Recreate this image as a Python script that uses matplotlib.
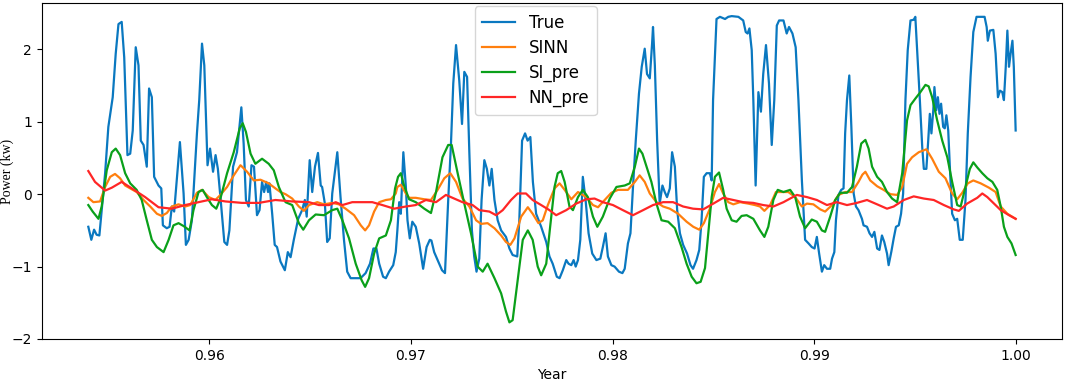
import numpy as np
import matplotlib
matplotlib.use("Agg")
import matplotlib.pyplot as plt

# time stamps are in hours from the start of the window; 403 h span ending at 1.0 year
HOURS_PER_YEAR = 8760.0
SPAN_H = 403.0

true_h = [0, 1.3, 2.5, 3.6, 4.8, 7.3, 8.7, 10.6, 11.9, 13.1, 14.5, 15.6, 17.0, 18.2, 19.3, 20.6, 21.8, 22.8, 24.0, 25.4,
          26.4, 27.6, 28.6, 30.5, 31.7, 32.4, 34.1, 35.3, 36.3, 37.3, 39.8, 41.4, 42.4, 43.6, 45.0, 47.2, 48.2, 49.4, 50.4, 51.8,
          52.9, 54.2, 55.3, 56.3, 57.6, 59.1, 60.3, 61.3, 62.9, 64.6, 66.5, 67.5, 68.5, 69.7, 70.9, 72.0, 73.3, 74.4, 75.5, 76.4,
          77.3, 78.1, 78.7, 79.9, 81.0, 82.0, 83.5, 85.4, 86.7, 87.9, 89.3, 91.2, 92.9, 94.1, 94.9, 96.2, 97.3, 98.5, 99.8, 101.0,
          101.6, 102.8, 103.8, 104.9, 106.0, 108.2, 109.6, 111.1, 112.5, 114.0, 118.3, 120.5, 122.4, 123.9, 125.2, 126.4, 128.1, 129.3, 130.7, 132.5,
          133.6, 134.3, 135.1, 135.8, 136.9, 138.0, 138.7, 139.7, 140.8, 142.3, 143.8, 145.5, 147.0, 148.4, 149.1, 150.3, 151.8, 153.7, 155.0, 156.4,
          157.6, 158.6, 159.8, 161.2, 162.4, 163.4, 164.6, 165.6, 166.7, 167.7, 168.7, 169.9, 170.9, 172.1, 173.2, 174.3, 175.3, 176.5, 177.9, 179.4,
          181.5, 183.0, 184.4, 186.4, 187.3, 188.5, 189.8, 190.9, 192.1, 193.2, 194.6, 196.8, 199.0, 200.4, 201.8, 203.6, 204.8, 206.2, 207.7, 208.7,
          209.9, 210.9, 211.8, 212.8, 213.8, 214.9, 216.1, 217.4, 219.0, 220.8, 222.5, 223.6, 224.8, 225.8, 227.3, 228.7, 230.6, 232.1, 233.1, 234.5,
          235.6, 236.7, 237.9, 239.3, 240.5, 241.8, 242.8, 244.0, 245.0, 245.4, 246.2, 247.2, 248.3, 249.5, 250.5, 251.5, 252.7, 253.7, 254.9, 255.9,
          257.1, 258.5, 260.2, 261.7, 262.8, 264.3, 265.5, 266.5, 267.5, 268.7, 270.1, 270.9, 271.5, 273.0, 274.5, 276.7, 278.1, 279.6, 282.5, 284.6,
          285.7, 286.5, 287.3, 288.3, 289.0, 290.0, 291.2, 292.3, 293.3, 294.5, 295.8, 297.0, 298.1, 299.2, 300.2, 302.1, 303.5, 304.5, 306.0, 307.4,
          308.6, 310.1, 311.5, 313.0, 314.4, 315.6, 316.6, 317.6, 318.8, 319.8, 321.0, 322.4, 323.2, 324.2, 324.9, 326.0, 327.2, 328.2, 328.9, 329.7,
          330.7, 331.6, 332.6, 333.6, 334.7, 336.2, 336.9, 338.4, 339.5, 340.6, 341.6, 342.8, 343.8, 344.9, 345.9, 347.1, 347.8, 349.0, 350.0, 351.0,
          352.2, 353.2, 354.1, 355.1, 356.1, 357.3, 358.7, 359.4, 360.2, 361.3, 362.4, 363.1, 364.2, 365.0, 365.7, 366.4, 367.2, 367.7, 368.5, 369.2,
          369.9, 370.6, 371.5, 372.2, 372.9, 373.7, 374.4, 375.4, 376.6, 377.6, 378.7, 380.0, 381.2, 382.2, 383.4, 384.6, 386.0, 389.5, 390.4, 390.9,
          391.8, 393.3, 394.3, 395.3, 396.2, 397.2, 397.9, 398.7, 399.4, 400.1, 400.8, 401.6, 402.2, 403.0]
true_v = [-0.45, -0.63, -0.49, -0.56, -0.57, 0.29, 0.93, 1.34, 1.94, 2.35, 2.38, 1.89, 0.54, 0.56, 0.88, 2.03, 1.78, 0.74, 0.68, 0.38,
          1.46, 1.34, 0.24, 0.12, 0.08, -0.43, -0.47, -0.45, -0.17, -0.24, 0.72, 0.01, -0.70, -0.63, -0.36, 0.84, 1.30, 2.08, 1.78, 0.40,
          0.63, 0.31, 0.54, 0.35, -0.11, -0.66, -0.70, -0.50, 0.38, 0.58, 1.20, 0.70, -0.08, -0.17, 0.40, 0.38, -0.29, -0.22, 0.17, 0.03,
          0.17, 0.03, 0.15, -0.27, -0.70, -0.73, -0.93, -1.05, -0.80, -0.87, -0.63, -0.34, -0.22, -0.08, -0.31, 0.47, 0.03, 0.38, 0.57, 0.12,
          0.10, -0.13, -0.66, -0.61, 0.01, 0.58, -0.04, -0.63, -1.07, -1.16, -1.16, -1.09, -0.96, -0.75, -0.75, -0.96, -1.14, -1.16, -1.07, -0.98,
          -0.80, -0.50, -0.11, -0.27, 0.58, 0.10, -0.36, -0.61, -0.38, -0.45, -0.68, -1.03, -0.73, -0.63, -0.64, -0.80, -0.91, -1.05, -1.09, -0.08,
          0.70, 1.53, 2.06, 1.57, 0.97, 1.69, 1.62, 0.56, -0.50, -0.86, -1.07, -0.89, -0.08, 0.47, 0.35, 0.12, 0.35, -0.08, -0.36, -0.50,
          -0.59, -0.75, -0.84, -0.86, -0.36, 0.74, 0.84, 0.74, 0.79, 0.17, -0.27, -0.45, -0.66, -0.86, -0.96, -1.14, -1.16, -1.05, -0.91, -0.96,
          -0.98, -0.91, -1.00, -0.91, -0.63, 0.24, -0.08, -0.54, -0.82, -0.91, -0.89, -0.73, -0.54, -0.86, -0.98, -1.00, -1.07, -1.09, -1.03, -0.68,
          -0.54, 0.10, 0.74, 1.39, 1.76, 2.01, 1.66, 1.60, 2.08, 2.31, 1.78, 0.74, -0.13, 0.12, 0.03, -0.04, 0.08, 0.58, 0.38, -0.22,
          -0.54, -0.70, -0.82, -0.98, -1.03, -0.91, -0.77, -0.36, 0.24, 0.29, 0.29, 0.19, 1.30, 2.42, 2.45, 2.42, 2.45, 2.46, 2.45, 2.40,
          2.24, 2.22, 2.29, 1.99, 1.30, 0.12, 1.41, 1.14, 1.66, 2.06, 1.53, 0.68, 1.30, 2.33, 2.40, 2.40, 2.22, 2.31, 2.22, 2.03,
          1.30, 0.19, -0.63, -0.68, -0.73, -0.75, -0.59, -0.82, -1.07, -0.98, -1.03, -1.03, -0.89, -0.80, -0.36, -0.01, 0.06, 0.08, 0.84, 1.30,
          1.64, 0.93, 0.01, -0.17, -0.22, -0.34, -0.43, -0.45, -0.54, -0.59, -0.52, -0.75, -0.77, -0.57, -0.66, -0.82, -0.98, -0.79, -0.61, -0.45,
          -0.43, -0.27, 0.01, 1.30, 1.99, 2.40, 2.41, 2.45, 1.99, 1.34, 0.65, 0.35, 0.35, 0.74, 1.11, 0.84, 1.16, 1.48, 1.16, 1.34,
          1.11, 1.25, 0.93, 0.91, 1.09, 0.88, 0.38, -0.27, -0.36, -0.34, -0.63, -0.63, -0.08, 0.84, 1.62, 2.24, 2.45, 2.45, 2.31, 2.12,
          2.26, 2.27, 1.94, 1.34, 1.43, 1.41, 1.30, 1.76, 2.26, 1.76, 1.94, 2.12, 1.76, 0.88]

sinn_h = [0, 2.2, 5.1, 7.3, 9.5, 11.6, 13.8, 16.0, 18.2, 21.0, 24.0, 26.9, 29.8, 31.9, 34.1, 36.3, 39.2, 42.1, 44.3, 47.2,
          49.4, 52.3, 55.2, 57.4, 60.3, 63.2, 66.1, 66.8, 69.0, 71.9, 74.8, 78.4, 81.3, 83.5, 85.7, 88.6, 91.5, 93.7, 95.9, 99.5,
          102.4, 106.0, 108.9, 111.8, 115.5, 118.4, 120.3, 122.0, 124.2, 126.4, 129.3, 131.5, 133.6, 134.3, 135.8, 138.0, 139.4, 142.3, 146.0, 148.9,
          151.8, 154.7, 157.3, 159.8, 162.6, 165.6, 168.5, 170.7, 173.5, 176.5, 179.4, 181.5, 183.4, 185.2, 188.1, 191.0, 193.1, 195.6, 197.5, 199.7,
          202.6, 204.8, 207.0, 209.9, 212.8, 216.4, 219.3, 221.5, 224.4, 227.3, 230.2, 234.5, 237.5, 239.6, 241.8, 244.0, 246.9, 249.8, 252.7, 256.3,
          260.0, 262.9, 265.5, 267.5, 270.1, 272.3, 274.1, 275.9, 278.1, 280.3, 283.2, 286.8, 289.7, 291.9, 293.8, 296.3, 298.8, 301.4, 304.2, 307.2,
          310.1, 312.3, 315.1, 318.1, 320.2, 323.2, 326.0, 329.0, 331.9, 334.7, 336.4, 337.7, 339.8, 342.8, 345.6, 348.6, 351.5, 353.7, 355.8, 358.0,
          360.9, 364.2, 366.7, 369.6, 372.5, 375.4, 377.6, 379.8, 382.2, 384.6, 387.8, 391.4, 394.3, 396.5, 399.4, 403.0]
sinn_v = [-0.05, -0.11, -0.10, 0.10, 0.24, 0.28, 0.22, 0.12, 0.08, 0.03, -0.08, -0.17, -0.27, -0.30, -0.26, -0.17, -0.14, -0.17, -0.15, 0.02,
          0.06, -0.04, -0.08, -0.01, 0.10, 0.26, 0.40, 0.38, 0.31, 0.19, 0.20, 0.15, 0.08, 0.03, 0.00, -0.06, -0.17, -0.23, -0.15, -0.11,
          -0.14, -0.12, -0.14, -0.20, -0.29, -0.43, -0.50, -0.43, -0.24, -0.11, -0.08, -0.07, 0.01, 0.10, 0.13, 0.01, -0.05, -0.05, -0.07, -0.08,
          0.06, 0.22, 0.29, 0.17, -0.06, -0.17, -0.36, -0.41, -0.40, -0.47, -0.57, -0.66, -0.70, -0.61, -0.31, -0.18, -0.27, -0.40, -0.36, -0.15,
          0.08, 0.15, 0.06, -0.07, 0.03, -0.04, -0.15, -0.18, -0.08, 0.02, 0.06, 0.06, 0.17, 0.26, 0.17, 0.01, -0.11, -0.17, -0.20, -0.27,
          -0.38, -0.45, -0.49, -0.40, -0.20, 0.03, 0.14, 0.01, -0.11, -0.14, -0.11, -0.13, -0.15, -0.17, -0.23, -0.15, 0.03, 0.03, 0.03, -0.04,
          -0.17, -0.13, -0.14, -0.21, -0.24, -0.15, -0.01, 0.03, 0.03, 0.17, 0.27, 0.31, 0.19, 0.11, 0.06, 0.00, -0.01, 0.10, 0.42, 0.51,
          0.58, 0.62, 0.49, 0.31, 0.22, 0.01, -0.07, 0.02, 0.15, 0.19, 0.15, 0.09, 0.03, -0.17, -0.27, -0.34]

si_h = [0, 1.9, 4.4, 5.8, 8.0, 10.2, 11.9, 13.8, 16.0, 18.2, 21.0, 23.2, 25.4, 27.6, 29.8, 32.7, 34.9, 37.0, 39.2, 41.4,
        44.0, 45.7, 47.9, 49.7, 51.5, 53.7, 55.6, 57.4, 60.3, 63.2, 65.8, 67.1, 68.5, 70.5, 72.6, 75.5, 78.4, 80.6, 82.8, 85.7,
        88.6, 91.5, 93.4, 95.9, 98.8, 102.4, 106.0, 108.2, 110.4, 113.3, 116.2, 118.8, 120.3, 122.0, 124.2, 126.4, 129.3, 131.5, 133.3, 134.6,
        135.8, 137.2, 139.4, 142.3, 146.0, 148.9, 151.1, 153.9, 156.4, 157.9, 160.5, 163.4, 166.3, 169.2, 171.4, 173.5, 176.5, 179.4, 181.5, 183.0,
        184.4, 186.6, 188.8, 191.0, 193.1, 195.3, 196.8, 199.0, 200.6, 202.6, 204.0, 205.5, 207.0, 209.1, 210.6, 212.8, 214.9, 217.1, 219.3, 221.2,
        223.6, 226.6, 229.5, 233.1, 235.3, 237.5, 239.3, 240.8, 242.6, 244.7, 246.9, 249.1, 252.0, 254.9, 257.8, 260.0, 262.2, 264.3, 266.1, 268.0,
        269.4, 270.9, 272.3, 274.1, 275.9, 277.4, 279.6, 281.7, 283.9, 286.1, 289.0, 291.9, 293.8, 295.5, 297.7, 299.6, 302.1, 305.0, 307.2, 309.3,
        311.5, 314.4, 316.6, 318.8, 320.2, 322.4, 324.6, 326.8, 329.7, 331.9, 334.0, 335.9, 337.7, 339.1, 340.6, 342.8, 344.9, 347.1, 349.3, 351.5,
        353.7, 355.8, 357.3, 359.4, 361.6, 363.8, 365.2, 366.7, 368.9, 371.1, 373.3, 375.4, 377.6, 379.1, 381.2, 383.1, 384.6, 386.3, 388.5, 390.7,
        392.9, 395.0, 396.5, 397.9, 399.4, 401.2, 403.0]
si_v = [-0.15, -0.24, -0.34, -0.17, 0.33, 0.58, 0.63, 0.54, 0.29, 0.15, 0.06, -0.08, -0.36, -0.63, -0.73, -0.80, -0.63, -0.43, -0.40, -0.44,
        -0.50, -0.22, 0.03, 0.06, -0.04, -0.15, -0.20, -0.06, 0.29, 0.58, 0.91, 0.98, 0.86, 0.56, 0.42, 0.49, 0.42, 0.33, 0.10, -0.11,
        -0.15, -0.40, -0.49, -0.36, -0.28, -0.29, -0.22, -0.20, -0.36, -0.61, -0.96, -1.19, -1.28, -1.16, -0.82, -0.61, -0.57, -0.36, 0.08, 0.24,
        0.29, 0.12, -0.07, -0.11, -0.20, -0.26, 0.03, 0.51, 0.68, 0.68, 0.29, -0.13, -0.54, -1.00, -1.07, -0.96, -1.16, -1.37, -1.62, -1.77,
        -1.74, -1.19, -0.63, -0.50, -0.63, -1.00, -1.12, -0.96, -0.48, 0.10, 0.29, 0.32, 0.17, -0.17, -0.22, -0.04, 0.06, -0.04, -0.31, -0.45,
        -0.31, -0.06, 0.10, 0.12, 0.15, 0.38, 0.63, 0.56, 0.38, 0.17, -0.13, -0.36, -0.38, -0.47, -0.73, -0.96, -1.14, -1.23, -1.21, -1.02,
        -0.54, -0.04, 0.24, 0.30, 0.06, -0.20, -0.36, -0.38, -0.30, -0.29, -0.34, -0.50, -0.59, -0.45, -0.08, 0.06, 0.03, 0.06, -0.04, -0.31,
        -0.47, -0.35, -0.38, -0.50, -0.52, -0.31, -0.08, 0.02, 0.02, 0.10, 0.38, 0.70, 0.75, 0.63, 0.38, 0.24, 0.17, 0.03, -0.06, -0.11,
        0.29, 1.02, 1.23, 1.32, 1.41, 1.51, 1.49, 1.34, 1.02, 0.74, 0.51, 0.17, -0.15, -0.17, 0.10, 0.35, 0.44, 0.37, 0.29, 0.22,
        0.17, 0.06, -0.17, -0.45, -0.59, -0.68, -0.84]

nn_h = [0, 2.9, 7.3, 10.2, 14.5, 18.9, 24.7, 30.5, 36.3, 42.1, 47.9, 53.7, 59.6, 66.8, 74.1, 81.3, 88.6, 95.9, 100.2, 104.6,
        107.5, 110.4, 114.7, 119.1, 123.4, 127.8, 132.9, 138.0, 142.3, 146.7, 151.1, 155.4, 159.0, 162.6, 167.0, 169.9, 174.3, 177.2, 180.1, 183.7,
        186.6, 190.2, 193.1, 196.8, 200.4, 203.3, 207.7, 212.0, 216.4, 220.0, 223.6, 228.0, 232.3, 236.7, 241.1, 245.4, 249.8, 254.1, 258.5, 262.8,
        267.2, 271.6, 275.9, 280.3, 284.6, 289.0, 293.3, 297.7, 302.1, 305.0, 307.9, 312.3, 316.6, 321.0, 325.3, 329.7, 334.0, 338.4, 342.8, 347.1,
        350.0, 354.4, 358.7, 363.1, 367.4, 371.8, 376.1, 378.3, 381.9, 386.3, 388.5, 390.7, 393.6, 396.5, 400.1, 403.0]
nn_v = [0.32, 0.17, 0.05, 0.09, 0.17, 0.08, -0.04, -0.18, -0.20, -0.15, -0.11, -0.07, -0.10, -0.12, -0.12, -0.08, -0.10, -0.11, -0.15, -0.15,
        -0.11, -0.15, -0.11, -0.11, -0.11, -0.15, -0.20, -0.17, -0.15, -0.08, -0.11, -0.01, -0.06, -0.11, -0.15, -0.22, -0.24, -0.29, -0.22, -0.08,
        0.01, 0.01, -0.08, -0.15, -0.22, -0.29, -0.22, -0.13, -0.07, -0.06, -0.11, -0.15, -0.22, -0.29, -0.22, -0.15, -0.11, -0.11, -0.17, -0.20,
        -0.21, -0.13, -0.05, -0.08, -0.11, -0.12, -0.15, -0.17, -0.11, -0.06, -0.01, -0.04, -0.08, -0.15, -0.11, -0.15, -0.12, -0.08, -0.14, -0.20,
        -0.17, -0.08, -0.03, -0.06, -0.08, -0.15, -0.21, -0.23, -0.13, -0.05, 0.01, -0.04, -0.13, -0.22, -0.29, -0.34]

series_names = ["True", "SINN", "SI_pre", "NN_pre"]
colors = ["#0a78c0", "#ff7f0e", "#0aa01a", "#ff2626"]


def to_year(h):
    return 1.0 - (SPAN_H - np.asarray(h, dtype=float)) / HOURS_PER_YEAR


fig = plt.figure(figsize=(10.65, 3.85), dpi=100)
ax = fig.add_axes([0.0394, 0.1195, 0.9578, 0.8725])

data = [(true_h, true_v), (sinn_h, sinn_v), (si_h, si_v), (nn_h, nn_v)]
for (h, v), name, c in zip(data, series_names, colors):
    ax.plot(to_year(h), v, color=c, lw=1.6, label=name)

ax.set_ylim(-2.0, 2.64)
ax.set_yticks([-2, -1, 0, 1, 2])
ax.set_xticks([0.96, 0.97, 0.98, 0.99, 1.00])
ax.set_xticklabels(["0.96", "0.97", "0.98", "0.99", "1.00"])
ax.tick_params(labelsize=10)
ax.set_xlabel("Year", fontsize=10, labelpad=4)
ax.set_ylabel("Power (kw)", fontsize=10, family="Liberation Serif")
ax.yaxis.set_label_coords(-0.027, 0.5)
ax.legend(loc="upper center", bbox_to_anchor=(0.484, 1.0), fontsize=12, frameon=True,
          handlelength=2.0, borderpad=0.45, labelspacing=0.42, borderaxespad=0.2)

fig.savefig("out.png", dpi=100)
